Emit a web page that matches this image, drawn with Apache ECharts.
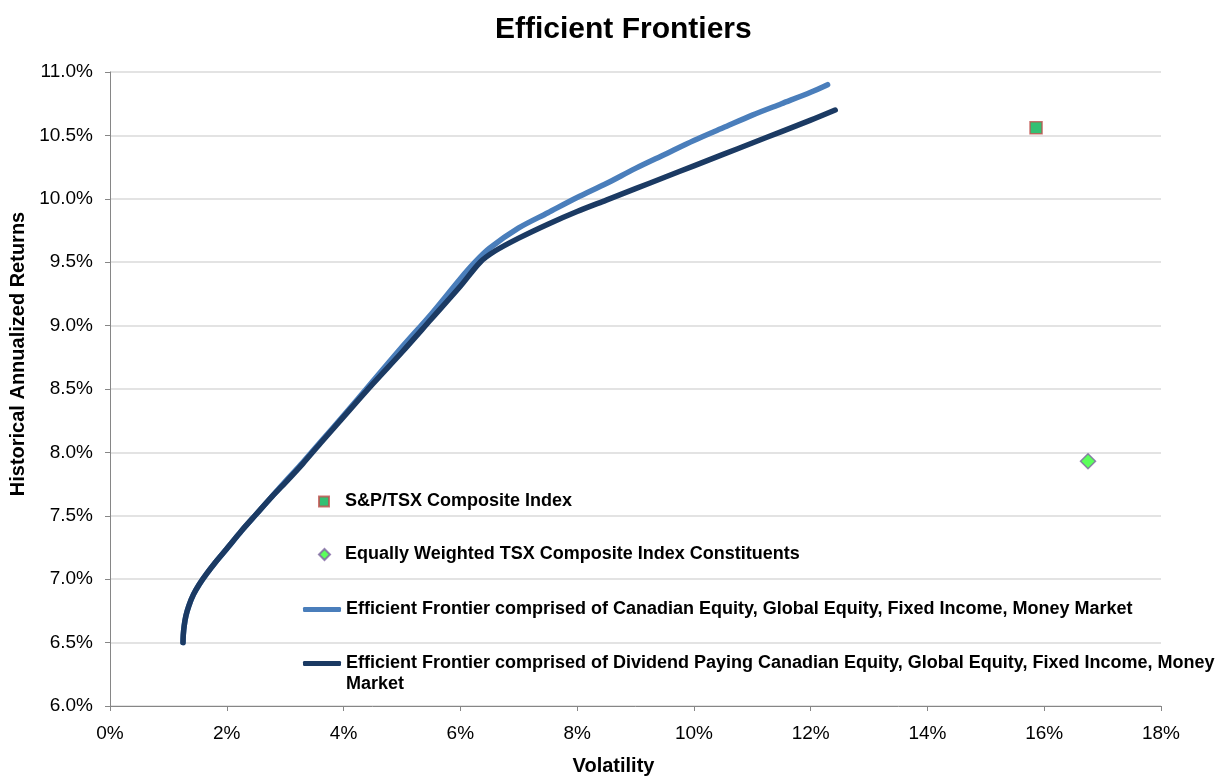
<!DOCTYPE html>
<html>
<head>
<meta charset="utf-8">
<script src="https://cdn.jsdelivr.net/npm/echarts@6/dist/echarts.min.js"></script>
<style>
  html, body { margin: 0; padding: 0; background: #fff; }
  #main { width: 1225px; height: 781px; }
</style>
</head>
<body>
<div id="main"></div>
<script>
  // volatility (%), return (%)
  var frontierCanadian = [
    [1.25, 6.50], [1.255, 6.56], [1.27, 6.63], [1.30, 6.71], [1.35, 6.79], [1.43, 6.88],
    [1.53, 6.96], [1.65, 7.04], [1.80, 7.13], [2.0, 7.24], [2.25, 7.38], [2.5, 7.51],
    [2.75, 7.64], [3.0, 7.77], [3.3, 7.92], [3.6, 8.08], [4.0, 8.29], [4.5, 8.56],
    [5.0, 8.83], [5.5, 9.09], [6.0, 9.37], [6.25, 9.50], [6.5, 9.61], [7.0, 9.77],
    [7.5, 9.89], [8.0, 10.01], [8.5, 10.12], [9.0, 10.24], [9.5, 10.35], [10.0, 10.46],
    [10.5, 10.56], [11.0, 10.66], [11.5, 10.75], [12.0, 10.84], [12.29, 10.90]
  ];
  var frontierDividend = [
    [1.25, 6.50], [1.255, 6.56], [1.27, 6.63], [1.30, 6.71], [1.35, 6.79], [1.43, 6.88],
    [1.53, 6.96], [1.65, 7.04], [1.80, 7.13], [2.0, 7.24], [2.25, 7.38], [2.5, 7.51],
    [2.75, 7.64], [3.0, 7.76], [3.3, 7.91], [3.6, 8.07], [4.0, 8.28], [4.5, 8.54],
    [5.0, 8.79], [5.5, 9.05], [6.0, 9.31], [6.34, 9.50], [6.6, 9.59], [7.0, 9.69],
    [7.5, 9.80], [8.0, 9.90], [8.5, 9.99], [9.0, 10.08], [9.5, 10.17], [10.0, 10.26],
    [10.5, 10.35], [11.0, 10.44], [11.5, 10.53], [12.0, 10.62], [12.42, 10.70]
  ];
  var tsxIndex = [[15.86, 10.56]];
  var equalWeighted = [[16.75, 7.93]];

  var names = [
    'S&P/TSX Composite Index',
    'Equally Weighted TSX Composite Index Constituents',
    'Efficient Frontier comprised of Canadian Equity, Global Equity, Fixed Income, Money Market',
    'Efficient Frontier comprised of Dividend Paying Canadian Equity, Global Equity, Fixed Income, Money Market'
  ];

  var chart = echarts.init(document.getElementById('main'));
  var font = 'Liberation Sans, Arial, Helvetica, sans-serif';
  var legendText = { fontFamily: font, fontWeight: 'bold', fontSize: 18, color: '#000', lineHeight: 21 };

  function legendBox(name, top, left, icon, w, h, pad) {
    var item = { name: name, icon: icon };
    if (pad) item.textStyle = { padding: pad };
    return {
      data: [item], top: top, left: left, padding: 0, orient: 'vertical',
      itemWidth: w, itemHeight: h, itemGap: 0, selectedMode: false,
      textStyle: legendText
    };
  }

  var lastLegend = legendBox(names[3], 632, 303, 'roundRect', 38, 5);
  // wrap like the original: blank line on top keeps the line icon level with the first row
  lastLegend.formatter = function (name) {
    return '\n' + name.replace(' Market', '\nMarket');
  };

  var option = {
    animation: false,
    title: {
      text: 'Efficient Frontiers', left: 490, top: 10,
      textStyle: { fontFamily: font, fontWeight: 'bold', fontSize: 30, color: '#000' }
    },
    grid: { left: 110, right: 64, top: 72, bottom: 70 },
    legend: [
      legendBox(names[0], 491, 318, 'rect', 10, 10, [0, 0, 0, 11]),
      legendBox(names[1], 544, 318, 'diamond', 11, 11, [0, 0, 0, 10]),
      legendBox(names[2], 599, 303, 'roundRect', 38, 5),
      lastLegend
    ],
    xAxis: {
      type: 'value', min: 0, max: 18, interval: 2,
      name: 'Volatility', nameLocation: 'middle', nameGap: 50,
      nameTextStyle: { fontFamily: font, fontWeight: 'bold', fontSize: 20, color: '#000', padding: [0, 44, 0, 0] },
      axisLine: { lineStyle: { color: '#868686' } },
      axisTick: { inside: false, length: 5, lineStyle: { color: '#868686' } },
      axisLabel: { formatter: function (v) { return v + '%'; }, margin: 18, fontFamily: font, fontSize: 19, color: '#000' },
      splitLine: { show: false }
    },
    yAxis: {
      type: 'value', min: 6, max: 11, interval: 0.5,
      name: 'Historical Annualized Returns', nameLocation: 'middle', nameGap: 78,
      nameTextStyle: { fontFamily: font, fontWeight: 'bold', fontSize: 20, color: '#000', padding: [0, 0, 0, 70] },
      axisLine: { show: true, lineStyle: { color: '#868686' } },
      axisTick: { show: true, inside: false, length: 5, lineStyle: { color: '#868686' } },
      axisLabel: { formatter: function (v) { return v.toFixed(1) + '%'; }, margin: 17, fontFamily: font, fontSize: 19, color: '#000' },
      splitLine: { show: true, lineStyle: { color: '#e3e3e3', width: 2 } }
    },
    series: [
      {
        name: names[2], type: 'line', data: frontierCanadian, smooth: 0.3,
        showSymbol: false, symbol: 'none',
        lineStyle: { color: '#4A7EBB', width: 5.5, cap: 'round', join: 'round' },
        itemStyle: { color: '#4A7EBB' }
      },
      {
        name: names[3], type: 'line', data: frontierDividend, smooth: 0.3,
        showSymbol: false, symbol: 'none',
        lineStyle: { color: '#1B3A63', width: 5.5, cap: 'round', join: 'round' },
        itemStyle: { color: '#1B3A63' }
      },
      {
        name: names[0], type: 'scatter', data: tsxIndex, symbol: 'rect', symbolSize: 12,
        itemStyle: { color: '#00B050', borderColor: '#C0504D', borderWidth: 1.5 }
      },
      {
        name: names[1], type: 'scatter', data: equalWeighted, symbol: 'diamond', symbolSize: 15,
        itemStyle: { color: '#33FF33', borderColor: '#8064A2', borderWidth: 1.5 }
      }
    ]
  };
  chart.setOption(option);
</script>
</body>
</html>
